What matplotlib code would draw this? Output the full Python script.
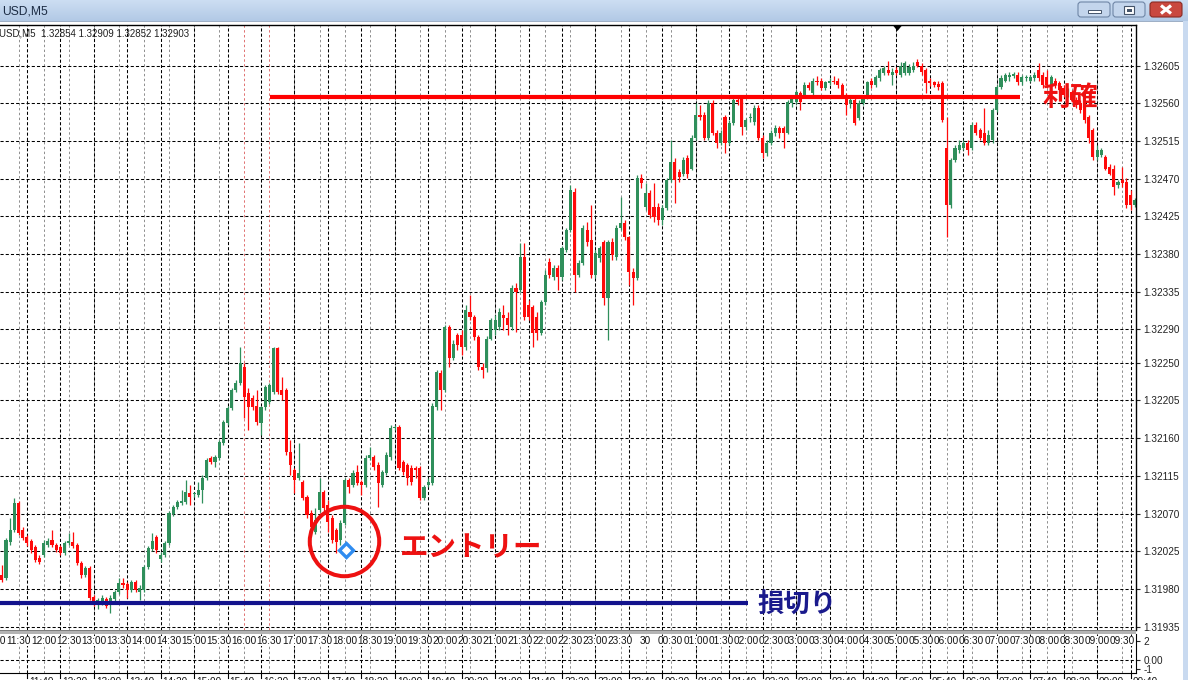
import matplotlib
matplotlib.use("Agg")
import matplotlib.pyplot as plt
import numpy as np
from matplotlib.patches import Rectangle, FancyBboxPatch, Polygon

# ---------------- data (GBPUSD M5 candles) ----------------
opens = [
    1.31997, 1.31993, 1.32036, 1.32050, 1.32082, 1.32050, 1.32042, 1.32037, 1.32030, 1.32017,
    1.32020, 1.32032, 1.32038, 1.32032, 1.32030, 1.32023, 1.32035, 1.32036, 1.32032, 1.32011,
    1.31997, 1.32005, 1.31970, 1.31963, 1.31964, 1.31968, 1.31961, 1.31968, 1.31976, 1.31987,
    1.31986, 1.31979, 1.31988, 1.31976, 1.31979, 1.32006, 1.32028, 1.32042, 1.32016, 1.32020,
    1.32035, 1.32069, 1.32078, 1.32082, 1.32084, 1.32094, 1.32093, 1.32092, 1.32098, 1.32112,
    1.32136, 1.32131, 1.32136, 1.32154, 1.32178, 1.32196, 1.32217, 1.32226, 1.32245, 1.32214,
    1.32208, 1.32198, 1.32178, 1.32197, 1.32203, 1.32215, 1.32268, 1.32217, 1.32217, 1.32143,
    1.32122, 1.32112, 1.32108, 1.32090, 1.32071, 1.32048, 1.32074, 1.32096, 1.32080, 1.32065,
    1.32050, 1.32038, 1.32059, 1.32110, 1.32104, 1.32119, 1.32108, 1.32104, 1.32136, 1.32137,
    1.32128, 1.32104, 1.32118, 1.32137, 1.32172, 1.32173, 1.32131, 1.32128, 1.32124, 1.32124,
    1.32124, 1.32088, 1.32104, 1.32106, 1.32197, 1.32238, 1.32217, 1.32293, 1.32256, 1.32283,
    1.32283, 1.32269, 1.32311, 1.32305, 1.32281, 1.32245, 1.32244, 1.32279, 1.32289, 1.32293,
    1.32307, 1.32303, 1.32293, 1.32339, 1.32337, 1.32376, 1.32319, 1.32317, 1.32305, 1.32285,
    1.32323, 1.32370, 1.32352, 1.32363, 1.32352, 1.32385, 1.32408, 1.32454, 1.32355, 1.32369,
    1.32408, 1.32397, 1.32355, 1.32375, 1.32394, 1.32327, 1.32394, 1.32376, 1.32411, 1.32417,
    1.32400, 1.32358, 1.32351, 1.32471, 1.32436, 1.32453, 1.32436, 1.32436, 1.32420, 1.32435,
    1.32468, 1.32490, 1.32478, 1.32476, 1.32494, 1.32482, 1.32519, 1.32546, 1.32546, 1.32518,
    1.32560, 1.32525, 1.32513, 1.32543, 1.32513, 1.32536, 1.32564, 1.32566, 1.32531, 1.32542,
    1.32537, 1.32554, 1.32518, 1.32500, 1.32513, 1.32524, 1.32530, 1.32530, 1.32525, 1.32560,
    1.32561, 1.32572, 1.32570, 1.32582, 1.32572, 1.32587, 1.32587, 1.32578, 1.32584, 1.32587,
    1.32587, 1.32582, 1.32570, 1.32560, 1.32564, 1.32542, 1.32560, 1.32567, 1.32587, 1.32582,
    1.32590, 1.32596, 1.32600, 1.32594, 1.32600, 1.32594, 1.32596, 1.32596, 1.32600, 1.32609,
    1.32605, 1.32600, 1.32587, 1.32585, 1.32583, 1.32584, 1.32506, 1.32438, 1.32492, 1.32504,
    1.32507, 1.32512, 1.32506, 1.32534, 1.32528, 1.32524, 1.32513, 1.32516, 1.32552, 1.32579,
    1.32587, 1.32591, 1.32592, 1.32594, 1.32585, 1.32590, 1.32587, 1.32590, 1.32600, 1.32594,
    1.32591, 1.32582, 1.32587, 1.32584, 1.32578, 1.32570, 1.32573, 1.32564, 1.32560, 1.32554,
    1.32543, 1.32528, 1.32496, 1.32498, 1.32496, 1.32484, 1.32482, 1.32462, 1.32468, 1.32466,
    1.32450, 1.32438,
]
highs = [
    1.32009, 1.32041, 1.32065, 1.32088, 1.32085, 1.32054, 1.32044, 1.32040, 1.32032, 1.32020,
    1.32038, 1.32041, 1.32050, 1.32035, 1.32032, 1.32037, 1.32047, 1.32048, 1.32035, 1.32013,
    1.32007, 1.32007, 1.31973, 1.31969, 1.31973, 1.31970, 1.31973, 1.31979, 1.31993, 1.31993,
    1.31988, 1.31991, 1.31991, 1.31985, 1.32009, 1.32031, 1.32047, 1.32044, 1.32024, 1.32037,
    1.32073, 1.32080, 1.32086, 1.32098, 1.32110, 1.32104, 1.32096, 1.32108, 1.32116, 1.32136,
    1.32139, 1.32140, 1.32158, 1.32182, 1.32199, 1.32220, 1.32229, 1.32269, 1.32250, 1.32220,
    1.32211, 1.32217, 1.32199, 1.32223, 1.32226, 1.32269, 1.32269, 1.32233, 1.32220, 1.32158,
    1.32124, 1.32154, 1.32110, 1.32092, 1.32074, 1.32076, 1.32113, 1.32098, 1.32086, 1.32068,
    1.32053, 1.32062, 1.32112, 1.32112, 1.32122, 1.32128, 1.32110, 1.32140, 1.32149, 1.32140,
    1.32131, 1.32122, 1.32143, 1.32176, 1.32176, 1.32176, 1.32134, 1.32130, 1.32128, 1.32127,
    1.32127, 1.32104, 1.32112, 1.32202, 1.32241, 1.32241, 1.32295, 1.32295, 1.32277, 1.32285,
    1.32289, 1.32319, 1.32331, 1.32307, 1.32283, 1.32250, 1.32282, 1.32303, 1.32307, 1.32315,
    1.32319, 1.32311, 1.32343, 1.32345, 1.32393, 1.32393, 1.32325, 1.32319, 1.32311, 1.32325,
    1.32361, 1.32375, 1.32367, 1.32367, 1.32390, 1.32411, 1.32462, 1.32459, 1.32373, 1.32414,
    1.32418, 1.32438, 1.32385, 1.32390, 1.32397, 1.32397, 1.32399, 1.32414, 1.32448, 1.32420,
    1.32402, 1.32363, 1.32474, 1.32476, 1.32465, 1.32456, 1.32465, 1.32441, 1.32438, 1.32471,
    1.32516, 1.32494, 1.32482, 1.32496, 1.32498, 1.32522, 1.32560, 1.32558, 1.32549, 1.32564,
    1.32564, 1.32528, 1.32528, 1.32546, 1.32540, 1.32567, 1.32567, 1.32567, 1.32542, 1.32548,
    1.32558, 1.32558, 1.32522, 1.32516, 1.32528, 1.32534, 1.32533, 1.32533, 1.32564, 1.32570,
    1.32576, 1.32574, 1.32585, 1.32585, 1.32590, 1.32592, 1.32590, 1.32587, 1.32590, 1.32592,
    1.32590, 1.32584, 1.32572, 1.32567, 1.32566, 1.32564, 1.32570, 1.32587, 1.32590, 1.32594,
    1.32602, 1.32605, 1.32611, 1.32602, 1.32603, 1.32609, 1.32610, 1.32607, 1.32609, 1.32613,
    1.32608, 1.32602, 1.32590, 1.32587, 1.32587, 1.32587, 1.32543, 1.32494, 1.32510, 1.32516,
    1.32516, 1.32516, 1.32537, 1.32537, 1.32530, 1.32554, 1.32528, 1.32554, 1.32582, 1.32594,
    1.32596, 1.32597, 1.32597, 1.32597, 1.32594, 1.32594, 1.32594, 1.32597, 1.32608, 1.32597,
    1.32600, 1.32594, 1.32590, 1.32587, 1.32582, 1.32578, 1.32576, 1.32567, 1.32564, 1.32558,
    1.32546, 1.32530, 1.32510, 1.32506, 1.32498, 1.32488, 1.32486, 1.32468, 1.32484, 1.32471,
    1.32456, 1.32447,
]
lows = [
    1.31988, 1.31991, 1.32033, 1.32048, 1.32044, 1.32038, 1.32031, 1.32023, 1.32012, 1.32010,
    1.32018, 1.32030, 1.32030, 1.32024, 1.32020, 1.32020, 1.32032, 1.32029, 1.32008, 1.31993,
    1.31994, 1.31967, 1.31959, 1.31956, 1.31961, 1.31957, 1.31951, 1.31965, 1.31974, 1.31981,
    1.31969, 1.31976, 1.31976, 1.31967, 1.31976, 1.32004, 1.32025, 1.32023, 1.32012, 1.32018,
    1.32032, 1.32067, 1.32075, 1.32080, 1.32081, 1.32080, 1.32090, 1.32090, 1.32082, 1.32110,
    1.32129, 1.32125, 1.32134, 1.32152, 1.32176, 1.32194, 1.32215, 1.32223, 1.32184, 1.32170,
    1.32194, 1.32176, 1.32164, 1.32194, 1.32201, 1.32213, 1.32213, 1.32205, 1.32140, 1.32116,
    1.32094, 1.32110, 1.32086, 1.32065, 1.32050, 1.32045, 1.32072, 1.32072, 1.32048, 1.32035,
    1.32023, 1.32032, 1.32056, 1.32094, 1.32102, 1.32104, 1.32092, 1.32102, 1.32134, 1.32122,
    1.32078, 1.32102, 1.32116, 1.32134, 1.32170, 1.32122, 1.32116, 1.32104, 1.32104, 1.32112,
    1.32086, 1.32086, 1.32102, 1.32104, 1.32194, 1.32194, 1.32215, 1.32245, 1.32253, 1.32265,
    1.32259, 1.32265, 1.32301, 1.32277, 1.32241, 1.32232, 1.32239, 1.32277, 1.32283, 1.32289,
    1.32289, 1.32283, 1.32289, 1.32287, 1.32334, 1.32301, 1.32301, 1.32269, 1.32277, 1.32283,
    1.32319, 1.32351, 1.32349, 1.32337, 1.32349, 1.32382, 1.32406, 1.32334, 1.32352, 1.32367,
    1.32390, 1.32351, 1.32351, 1.32370, 1.32319, 1.32277, 1.32373, 1.32373, 1.32408, 1.32397,
    1.32343, 1.32319, 1.32349, 1.32459, 1.32432, 1.32423, 1.32418, 1.32414, 1.32414, 1.32432,
    1.32466, 1.32441, 1.32466, 1.32473, 1.32471, 1.32480, 1.32516, 1.32540, 1.32516, 1.32516,
    1.32522, 1.32507, 1.32510, 1.32501, 1.32510, 1.32534, 1.32558, 1.32522, 1.32528, 1.32537,
    1.32534, 1.32516, 1.32494, 1.32497, 1.32510, 1.32521, 1.32518, 1.32506, 1.32523, 1.32556,
    1.32559, 1.32552, 1.32567, 1.32576, 1.32570, 1.32582, 1.32576, 1.32576, 1.32582, 1.32583,
    1.32578, 1.32566, 1.32546, 1.32554, 1.32534, 1.32540, 1.32558, 1.32565, 1.32578, 1.32579,
    1.32587, 1.32594, 1.32594, 1.32582, 1.32594, 1.32591, 1.32594, 1.32594, 1.32597, 1.32603,
    1.32594, 1.32572, 1.32580, 1.32579, 1.32576, 1.32537, 1.32400, 1.32435, 1.32490, 1.32501,
    1.32504, 1.32498, 1.32504, 1.32522, 1.32516, 1.32510, 1.32510, 1.32513, 1.32549, 1.32577,
    1.32585, 1.32587, 1.32590, 1.32582, 1.32582, 1.32587, 1.32585, 1.32587, 1.32587, 1.32578,
    1.32578, 1.32576, 1.32578, 1.32573, 1.32567, 1.32567, 1.32561, 1.32554, 1.32548, 1.32536,
    1.32513, 1.32492, 1.32492, 1.32496, 1.32480, 1.32474, 1.32450, 1.32459, 1.32460, 1.32435,
    1.32432, 1.32436,
]
closes = [
    1.31991, 1.32038, 1.32050, 1.32082, 1.32047, 1.32041, 1.32035, 1.32026, 1.32014, 1.32012,
    1.32035, 1.32037, 1.32032, 1.32026, 1.32023, 1.32035, 1.32037, 1.32031, 1.32011, 1.31997,
    1.32005, 1.31969, 1.31964, 1.31967, 1.31969, 1.31959, 1.31969, 1.31976, 1.31987, 1.31985,
    1.31979, 1.31988, 1.31979, 1.31981, 1.32006, 1.32029, 1.32037, 1.32026, 1.32020, 1.32035,
    1.32071, 1.32078, 1.32084, 1.32085, 1.32096, 1.32090, 1.32093, 1.32098, 1.32112, 1.32134,
    1.32131, 1.32137, 1.32155, 1.32179, 1.32196, 1.32217, 1.32226, 1.32250, 1.32209, 1.32197,
    1.32197, 1.32179, 1.32197, 1.32221, 1.32223, 1.32268, 1.32215, 1.32211, 1.32143, 1.32128,
    1.32110, 1.32118, 1.32088, 1.32068, 1.32054, 1.32062, 1.32096, 1.32076, 1.32060, 1.32038,
    1.32036, 1.32059, 1.32110, 1.32102, 1.32118, 1.32106, 1.32104, 1.32136, 1.32140, 1.32125,
    1.32106, 1.32119, 1.32140, 1.32172, 1.32173, 1.32124, 1.32119, 1.32113, 1.32108, 1.32122,
    1.32088, 1.32102, 1.32108, 1.32199, 1.32239, 1.32217, 1.32293, 1.32256, 1.32273, 1.32271,
    1.32269, 1.32313, 1.32305, 1.32281, 1.32245, 1.32241, 1.32279, 1.32301, 1.32301, 1.32311,
    1.32303, 1.32295, 1.32339, 1.32334, 1.32376, 1.32305, 1.32305, 1.32285, 1.32285, 1.32323,
    1.32355, 1.32355, 1.32363, 1.32352, 1.32387, 1.32408, 1.32456, 1.32355, 1.32369, 1.32411,
    1.32394, 1.32355, 1.32381, 1.32387, 1.32327, 1.32394, 1.32379, 1.32411, 1.32417, 1.32400,
    1.32358, 1.32351, 1.32471, 1.32465, 1.32453, 1.32426, 1.32424, 1.32420, 1.32435, 1.32468,
    1.32490, 1.32468, 1.32472, 1.32492, 1.32476, 1.32519, 1.32546, 1.32543, 1.32518, 1.32560,
    1.32525, 1.32513, 1.32524, 1.32513, 1.32536, 1.32564, 1.32562, 1.32531, 1.32540, 1.32543,
    1.32554, 1.32518, 1.32500, 1.32513, 1.32524, 1.32530, 1.32524, 1.32524, 1.32561, 1.32566,
    1.32573, 1.32561, 1.32582, 1.32578, 1.32587, 1.32585, 1.32578, 1.32585, 1.32587, 1.32585,
    1.32582, 1.32570, 1.32558, 1.32564, 1.32536, 1.32560, 1.32567, 1.32585, 1.32582, 1.32591,
    1.32600, 1.32602, 1.32596, 1.32597, 1.32596, 1.32605, 1.32608, 1.32603, 1.32605, 1.32605,
    1.32597, 1.32584, 1.32584, 1.32582, 1.32579, 1.32540, 1.32438, 1.32492, 1.32506, 1.32510,
    1.32512, 1.32504, 1.32534, 1.32525, 1.32519, 1.32513, 1.32522, 1.32552, 1.32579, 1.32590,
    1.32594, 1.32594, 1.32595, 1.32585, 1.32591, 1.32590, 1.32591, 1.32594, 1.32590, 1.32582,
    1.32582, 1.32591, 1.32582, 1.32576, 1.32570, 1.32576, 1.32564, 1.32558, 1.32552, 1.32540,
    1.32518, 1.32496, 1.32504, 1.32504, 1.32482, 1.32476, 1.32460, 1.32466, 1.32465, 1.32438,
    1.32438, 1.32444,
]

price_ticks = [1.32605, 1.32560, 1.32515, 1.32470, 1.32425, 1.32380, 1.32335, 1.32290,
               1.32250, 1.32205, 1.32160, 1.32115, 1.32070, 1.32025, 1.31980, 1.31935]
price_labels = ["1.32605", "1.32560", "1.32515", "1.32470", "1.32425", "1.32380", "1.32335",
                "1.32290", "1.32250", "1.32205", "1.32160", "1.32115", "1.32070", "1.32025",
                "1.31980", "1.31935"]

time_labels = ["11:00", "11:30", "12:00", "12:30", "13:00", "13:30", "14:00", "14:30",
               "15:00", "15:30", "16:00", "16:30", "17:00", "17:30", "18:00", "18:30",
               "19:00", "19:30", "20:00", "20:30", "21:00", "21:30", "22:00", "22:30",
               "23:00", "23:30", "30", "00:30", "01:00", "01:30", "02:00", "02:30",
               "03:00", "03:30", "04:00", "04:30", "05:00", "05:30", "06:00", "06:30",
               "07:00", "07:30", "08:00", "08:30", "09:00", "09:30"]
bottom_labels = ["11:40", "12:20", "13:00", "13:40", "14:20", "15:00", "15:40", "16:20",
                 "17:00", "17:40", "18:20", "19:00", "19:40", "20:20", "21:00", "21:40",
                 "22:20", "23:00", "23:40", "00:20", "01:00", "01:40", "02:20", "03:00",
                 "03:40", "04:20", "05:00", "05:40", "06:20", "07:00", "07:40", "08:20",
                 "09:00", "09:40"]
sub_ticks = [2, 0, -1]
sub_tick_labels = ["2", "0.00", "-1"]

take_profit = 1.32567
stop_loss = 1.31963
entry_bar = 82
entry_price = 1.32027
header_text = "USD,M5  1.32854 1.32909 1.32852 1.32903"
window_title = "USD,M5"

# ---------------- figure ----------------
W, H = 1188, 680
fig = plt.figure(figsize=(W / 100, H / 100), dpi=100)
fig.patch.set_facecolor("white")

def fx(x):
    return x / W

def fy(y):
    return 1 - y / H

CH_RIGHT = 1136          # right edge of chart (px)
MAIN_TOP, MAIN_BOT = 25, 630
SUB_TOP, SUB_BOT = 634, 673
XL = (-0.43, 271.3)

n = len(opens)
idx = np.arange(n)
o = np.array(opens); c = np.array(closes); hi = np.array(highs); lo = np.array(lows)

GREEN = "#2f8f5b"
RED = "#ff0a0a"
dash_k = (0, (3, 2))
dash_g = (0, (2.5, 2.5))

black_grid = list(range(6, n, 8))
gray_grid = list(range(4, n, 6))
red_grid = [58, 64]

# ---------------- main chart ----------------
ax = fig.add_axes([0, fy(MAIN_BOT), fx(CH_RIGHT), (MAIN_BOT - MAIN_TOP) / H])
ax.set_xlim(*XL)
ax.set_ylim(1.319309, 1.326534)
ax.set_facecolor("white")

for gi in gray_grid:
    col = "#e07070" if gi in red_grid else "#8e8e8e"
    ax.axvline(gi, color=col, lw=0.7, ls=dash_g, zorder=1)
for bi in black_grid:
    ax.axvline(bi, color="black", lw=0.75, ls=dash_k, zorder=1)
for p in price_ticks:
    ax.axhline(p, color="black", lw=0.75, ls=dash_k, zorder=1)

cols = np.where(c >= o, GREEN, RED)
body = c - o
minh = 0.000012
body = np.where(np.abs(body) < minh, np.where(body >= 0, minh, -minh), body)
ax.vlines(idx, lo, hi, colors=cols, lw=0.9, zorder=2)
ax.bar(idx, body, bottom=o, width=0.74, color=cols, linewidth=0, zorder=2)

# take profit / stop loss lines
ax.hlines(take_profit, 64.2, 243.6, color="#ff0000", lw=3.0, zorder=4)
ax.hlines(stop_loss, XL[0], 178.5, color="#12128c", lw=3.0, zorder=4)

# entry circle + marker
ax.plot([81.9], [1.32037], marker="o", ms=50, mfc="none", mec="#ee1111", mew=2.9, zorder=5)
ax.plot([entry_bar + 0.3], [entry_price], marker="D", ms=7.5, mfc="white", mec="#2f8cf0",
        mew=2.4, zorder=6)

jp = ["Noto Sans CJK JP", "DejaVu Sans"]
ax.text(95.3, 1.32029, "エントリー", color="#ee1111", fontsize=20.5, fontweight="bold",
        family=jp, ha="left", va="center", zorder=6)
ax.text(249.0, 1.32566, "利確", color="#ee1111", fontsize=20, fontweight="bold",
        family=jp, ha="left", va="center", zorder=6)
ax.text(180.7, 1.31961, "損切り", color="#1a1a8c", fontsize=19, fontweight="bold",
        family=jp, ha="left", va="center", zorder=6)

ax.set_xticks([])
ax.set_yticks(price_ticks)
ax.set_yticklabels(price_labels)
ax.yaxis.tick_right()
ax.tick_params(axis="y", direction="out", length=3, width=0.8, pad=2.5, colors="#222222",
               labelsize=7.2)
for lab in ax.get_yticklabels():
    lab.set_family("Liberation Sans")
for s in ["left", "bottom"]:
    ax.spines[s].set_visible(False)
ax.spines["top"].set_color("black")
ax.spines["right"].set_color("black")
ax.spines["top"].set_linewidth(1.0)
ax.spines["right"].set_linewidth(1.0)

# ---------------- sub window ----------------
sub = fig.add_axes([0, fy(SUB_BOT), fx(CH_RIGHT), (SUB_BOT - SUB_TOP) / H])
sub.set_xlim(*XL)
sub.set_ylim(-1.37, 2.74)
for gi in gray_grid:
    sub.axvline(gi, color="#8e8e8e", lw=0.7, ls=dash_g, zorder=1)
for bi in black_grid:
    sub.axvline(bi, color="black", lw=0.75, ls=dash_k, zorder=1)
sub.axhline(0, color="black", lw=0.75, ls=dash_k, zorder=1)
for k, lab in enumerate(time_labels):
    sub.text(-2 + 6 * k, 2.0, lab, ha="center", va="center", fontsize=7.2,
             family="Liberation Sans", color="#111111", zorder=3 + k * 0.001,
             bbox=dict(facecolor="white", edgecolor="none", pad=0.3), clip_on=True)
sub.set_xticks([])
sub.set_yticks(sub_ticks)
sub.set_yticklabels(sub_tick_labels)
sub.yaxis.tick_right()
sub.tick_params(axis="y", direction="out", length=3, width=0.8, pad=2.5, colors="#222222",
                labelsize=7.2)
for lab in sub.get_yticklabels():
    lab.set_family("Liberation Sans")
for s in ["left", "top"]:
    sub.spines[s].set_visible(False)
sub.spines["bottom"].set_color("black")
sub.spines["right"].set_color("black")

# ---------------- window chrome overlay ----------------
ov = fig.add_axes([0, 0, 1, 1], zorder=10)
ov.patch.set_visible(False)
ov.axis("off")

grad = np.linspace(0, 1, 32).reshape(-1, 1)
top_c = np.array([0.80, 0.87, 0.95])
bot_c = np.array([0.70, 0.79, 0.90])
img = top_c[None, None, :] * (1 - grad[:, :, None]) + bot_c[None, None, :] * grad[:, :, None]
ov.imshow(img, extent=[0, W, 21, 0], aspect="auto", zorder=1)
ov.add_patch(Rectangle((0, 21), W, 1.2, facecolor="#9fb0c6", edgecolor="none", zorder=2))
ov.add_patch(Rectangle((1183, 21), 5, H - 21, facecolor="#c9daf0", edgecolor="none", zorder=2))

ov.text(2, 11, window_title, fontsize=8.7, family="Liberation Sans", color="#1c2c44",
        ha="left", va="center", zorder=3)

# window buttons
for x0, x1 in [(1078, 1110), (1113, 1145)]:
    ov.add_patch(FancyBboxPatch((x0, 2), x1 - x0, 15, boxstyle="round,pad=0,rounding_size=3",
                                facecolor="#c3d5ec", edgecolor="#6f86a6", lw=0.8, zorder=3))
ov.add_patch(FancyBboxPatch((1150, 2), 32, 15, boxstyle="round,pad=0,rounding_size=3",
                            facecolor="#c9483f", edgecolor="#8a2b24", lw=0.8, zorder=3))
ov.add_patch(Rectangle((1088, 10), 13, 3.2, facecolor="white", edgecolor="#44546a", lw=0.7, zorder=4))
ov.add_patch(Rectangle((1124, 5.5), 10, 8, facecolor="white", edgecolor="#44546a", lw=0.8, zorder=4))
ov.add_patch(Rectangle((1126.5, 8.5), 5, 3, facecolor="#44546a", edgecolor="none", zorder=5))
ov.plot([1161, 1171], [5.5, 13.5], color="white", lw=2.3, solid_capstyle="butt", zorder=5)
ov.plot([1161, 1171], [13.5, 5.5], color="white", lw=2.3, solid_capstyle="butt", zorder=5)

# header info line
ov.text(-1, 33, header_text, fontsize=7, family="Liberation Sans", color="#202020",
        ha="left", va="center", zorder=3)

# shift marker triangle
ov.add_patch(Polygon([(893, 25.5), (902, 25.5), (897.5, 31)], closed=True, facecolor="black",
                     edgecolor="none", zorder=3))

# separator between main and sub window
ov.add_patch(Rectangle((0, 630), CH_RIGHT, 4, facecolor="#b4b4b4", edgecolor="none", zorder=3))
ov.add_patch(Rectangle((0, 630), CH_RIGHT, 1, facecolor="#7c7c7c", edgecolor="none", zorder=3))

# bottom time axis (cut off by the screenshot edge)
px_per_bar = CH_RIGHT / (XL[1] - XL[0])
for k, lab in enumerate(bottom_labels):
    bx = (black_grid[k] - XL[0]) * px_per_bar
    ov.plot([bx, bx], [673, 678], color="black", lw=0.8, zorder=3)
    ov.text(bx + 2, 677.3, lab, fontsize=7.2, family="Liberation Sans", color="#111111",
            ha="left", va="top", zorder=3)

ov.set_xlim(0, W)
ov.set_ylim(H, 0)

fig.savefig("out.png", dpi=100)
